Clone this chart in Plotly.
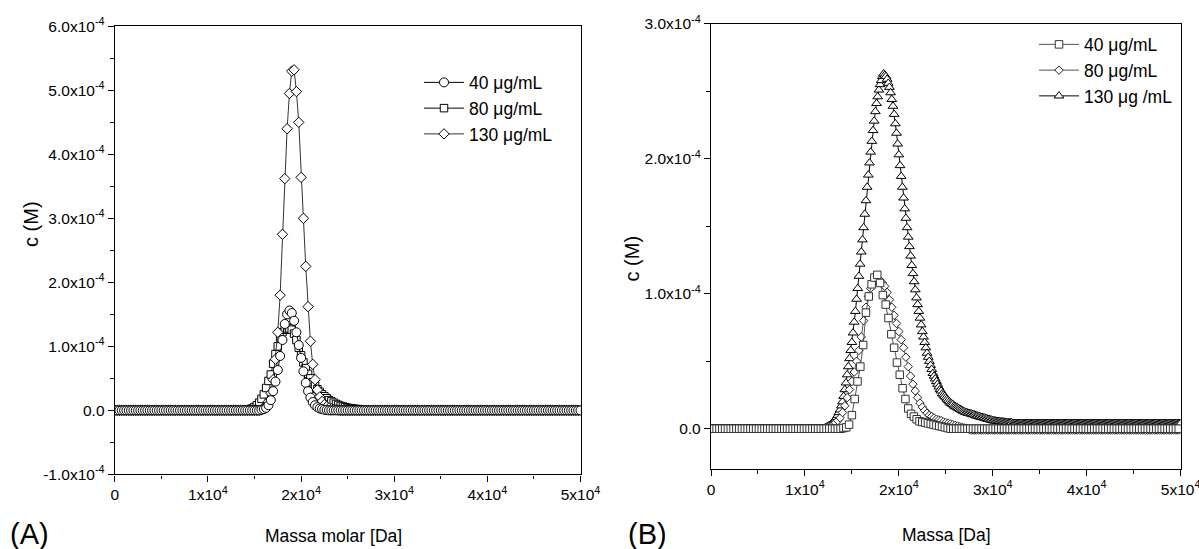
import plotly.graph_objects as go

W, H = 1199, 549

# ---------------------------------------------------------------------------
# Molar-mass grids (Da) on which each distribution was evaluated
# ---------------------------------------------------------------------------
mass_A = list(range(0, 50001, 250))
mass_B40 = list(range(0, 50001, 300))
mass_B80 = list(range(0, 50001, 250))
mass_B130 = list(range(0, 50001, 125))


def with_baseline(values, grid, level=0.0):
    """Extend a series with its flat baseline up to the end of its grid."""
    return values + [level] * (len(grid) - len(values))


# ---------------------------------------------------------------------------
# Panel (A): c(M) distributions, concentration in units of 1e-4 M
# ---------------------------------------------------------------------------
c40_A = with_baseline([0.0] * 63 + [
    0.01, 0.02, 0.04, 0.08, 0.16, 0.30, 0.45, 0.63, 0.85, 1.10,
    1.35, 1.50, 1.56, 1.52, 1.40, 1.22, 1.02, 0.82, 0.61, 0.43,
    0.30, 0.20, 0.13, 0.08, 0.05, 0.03, 0.02, 0.01, 0.005], mass_A)

c80_A = with_baseline([0.0] * 57 + [
    0.005, 0.01, 0.03, 0.05, 0.08, 0.12, 0.18, 0.25, 0.35, 0.46,
    0.56, 0.73, 0.88, 1.00, 1.13, 1.22, 1.26, 1.28, 1.28, 1.26,
    1.20, 1.10, 0.98, 0.86, 0.75, 0.66, 0.57, 0.50, 0.44, 0.38,
    0.33, 0.29, 0.25, 0.22, 0.19, 0.16, 0.14, 0.12, 0.10, 0.085,
    0.07, 0.06, 0.05, 0.04, 0.035, 0.03, 0.025, 0.02, 0.015, 0.01,
    0.005], mass_A)

c130_A = with_baseline([0.0] * 63 + [
    0.01, 0.03, 0.07, 0.14, 0.27, 0.48, 0.80, 1.22, 1.80, 2.75,
    3.62, 4.40, 4.95, 5.30, 5.32, 4.98, 4.50, 3.64, 3.00, 2.25,
    1.62, 1.08, 0.72, 0.48, 0.32, 0.21, 0.14, 0.09, 0.06, 0.04,
    0.025, 0.015, 0.01, 0.005], mass_A)

# ---------------------------------------------------------------------------
# Panel (B): c(M) distributions, concentration in units of 1e-4 M
# ---------------------------------------------------------------------------
c40_B = with_baseline([0.0] * 47 + [
    0.005, 0.01, 0.03, 0.10, 0.22, 0.35, 0.46, 0.62, 0.86, 0.98,
    1.07, 1.12, 1.14, 1.08, 0.99, 0.92, 0.82, 0.70, 0.60, 0.49,
    0.40, 0.30, 0.22, 0.15, 0.11, 0.09, 0.07, 0.055, 0.05, 0.045,
    0.04, 0.035, 0.03, 0.025, 0.02, 0.015, 0.01, 0.005], mass_B40)

c80_B = with_baseline([0.0] * 49 + [
    0.01, 0.015, 0.02, 0.03, 0.045, 0.06, 0.08, 0.12, 0.17, 0.23,
    0.29, 0.35, 0.42, 0.50, 0.58, 0.68, 0.80, 0.90, 0.98, 1.04,
    1.08, 1.105, 1.11, 1.10, 1.08, 1.055, 1.01, 0.955, 0.90, 0.84,
    0.78, 0.72, 0.66, 0.60, 0.53, 0.46, 0.39, 0.33, 0.28, 0.23,
    0.19, 0.16, 0.135, 0.115, 0.10, 0.09, 0.08, 0.07, 0.065, 0.06,
    0.05, 0.045, 0.04, 0.035, 0.03, 0.025, 0.02, 0.015, 0.01, 0.005,
    0.0, -0.005, -0.01], mass_B80, level=-0.01)

c130_B = with_baseline([0.0] * 97 + [
    0.005, 0.01, 0.015, 0.02, 0.025, 0.03, 0.04, 0.05, 0.06, 0.07,
    0.085, 0.10, 0.12, 0.14, 0.17, 0.20, 0.24, 0.29, 0.34, 0.40,
    0.46, 0.52, 0.58, 0.64, 0.71, 0.79, 0.87, 0.96, 1.04, 1.13,
    1.22, 1.31, 1.40, 1.49, 1.59, 1.69, 1.79, 1.88, 1.97, 2.05,
    2.13, 2.21, 2.28, 2.35, 2.41, 2.46, 2.51, 2.55, 2.58, 2.61,
    2.63, 2.62, 2.61, 2.59, 2.56, 2.53, 2.49, 2.44, 2.39, 2.33,
    2.26, 2.19, 2.11, 2.03, 1.95, 1.87, 1.79, 1.71, 1.63, 1.56,
    1.49, 1.42, 1.35, 1.28, 1.21, 1.15, 1.09, 1.03, 0.97, 0.92,
    0.87, 0.82, 0.77, 0.72, 0.68, 0.64, 0.60, 0.56, 0.53, 0.50,
    0.47, 0.44, 0.41, 0.39, 0.37, 0.35, 0.33, 0.31, 0.29, 0.28,
    0.26, 0.25, 0.24, 0.23, 0.22, 0.21, 0.20, 0.19, 0.185, 0.18,
    0.17, 0.165, 0.16, 0.155, 0.15, 0.145, 0.14, 0.135, 0.13, 0.125,
    0.12, 0.12, 0.115, 0.115, 0.11, 0.11, 0.105, 0.105,
    0.10, 0.095, 0.095, 0.09, 0.09, 0.085, 0.085, 0.08, 0.08, 0.075,
    0.075, 0.07, 0.07, 0.065, 0.065, 0.06,
    0.06, 0.058, 0.056, 0.055, 0.054, 0.053, 0.052, 0.051, 0.05, 0.049,
    0.048, 0.047, 0.046, 0.045, 0.045, 0.045], mass_B130, level=0.04)

# Axis ticks
x_tickvals = [0, 10000, 20000, 30000, 40000, 50000]
x_ticktext = ["0"] + [f"{k}x10<sup>4</sup>" for k in range(1, 6)]
yA_tickvals = [-1e-4, 0, 1e-4, 2e-4, 3e-4, 4e-4, 5e-4, 6e-4]
yA_ticktext = ["-1.0x10<sup>-4</sup>", "0.0", "1.0x10<sup>-4</sup>", "2.0x10<sup>-4</sup>",
               "3.0x10<sup>-4</sup>", "4.0x10<sup>-4</sup>", "5.0x10<sup>-4</sup>",
               "6.0x10<sup>-4</sup>"]
yB_tickvals = [0, 1e-4, 2e-4, 3e-4]
yB_ticktext = ["0.0", "1.0x10<sup>-4</sup>", "2.0x10<sup>-4</sup>", "3.0x10<sup>-4</sup>"]

UNIT = 1e-4
FONT = "Arial, Liberation Sans, sans-serif"


def to_molar(values):
    return [v * UNIT for v in values]


def series(x, y, name, symbol, size, xa, ya, legend, rank,
           line_color="black", marker_line="black"):
    return go.Scatter(
        x=x, y=to_molar(y), name=name, mode="lines+markers",
        xaxis=xa, yaxis=ya, legend=legend, legendrank=rank,
        line=dict(color=line_color, width=1),
        marker=dict(symbol=symbol, size=size, color="white",
                    line=dict(color=marker_line, width=1)),
        hoverinfo="skip",
    )


fig = go.Figure()

# Panel A (drawing order: 80, 130, 40 on top)
fig.add_trace(series(mass_A, c80_A, "80 μg/mL", "square", 7.5, "x", "y", "legend", 2))
fig.add_trace(series(mass_A, c130_A, "130 μg/mL", "diamond", 8, "x", "y", "legend", 3,
                     line_color="#333333"))
fig.add_trace(series(mass_A, c40_A, "40 μg/mL", "circle", 9, "x", "y", "legend", 1))

# Panel B (drawing order: 130, 80, 40 on top)
fig.add_trace(series(mass_B130, c130_B, "130 μg /mL", "triangle-up", 8.5, "x2", "y2",
                     "legend2", 3))
fig.add_trace(series(mass_B80, c80_B, "80 μg/mL", "diamond", 6.5, "x2", "y2",
                     "legend2", 2, line_color="#555555", marker_line="#222222"))
fig.add_trace(series(mass_B40, c40_B, "40 μg/mL", "square", 7.5, "x2", "y2",
                     "legend2", 1, line_color="#555555", marker_line="#333333"))

# Plot-area geometry in pixels
A_left, A_right, A_top, A_bottom = 114.8, 580.5, 26.3, 474.4
B_left, B_right, B_top, B_bottom = 711.0, 1180.6, 23.8, 469.2

axis_common = dict(
    showline=True, linecolor="black", linewidth=1.3, mirror=True,
    ticks="outside", ticklen=6, tickwidth=1.3, tickcolor="black",
    showgrid=False, zeroline=False, ticklabeloverflow="allow",
    tickfont=dict(family=FONT, size=15.5, color="black"),
)
minor_common = dict(ticks="outside", ticklen=3.5, tickwidth=1.1, tickcolor="black")

fig.update_layout(
    width=W, height=H,
    margin=dict(l=0, r=0, t=0, b=0, autoexpand=False),
    paper_bgcolor="white", plot_bgcolor="white",
    font=dict(family=FONT, color="black"),
    xaxis=dict(domain=[A_left / W, A_right / W], range=[0, 50000], anchor="y",
               tickmode="array", tickvals=x_tickvals, ticktext=x_ticktext,
               minor=dict(dtick=5000, tick0=0, **minor_common), **axis_common),
    yaxis=dict(domain=[1 - A_bottom / H, 1 - A_top / H], range=[-1e-4, 6e-4], anchor="x",
               tickmode="array", tickvals=yA_tickvals, ticktext=yA_ticktext,
               minor=dict(dtick=0.5e-4, tick0=0, **minor_common), **axis_common),
    xaxis2=dict(domain=[B_left / W, B_right / W], range=[0, 50000], anchor="y2",
                tickmode="array", tickvals=x_tickvals, ticktext=x_ticktext,
                minor=dict(dtick=5000, tick0=0, **minor_common), **axis_common),
    yaxis2=dict(domain=[1 - B_bottom / H, 1 - B_top / H], range=[-0.3e-4, 3e-4], anchor="x2",
                tickmode="array", tickvals=yB_tickvals, ticktext=yB_ticktext,
                minor=dict(dtick=0.5e-4, tick0=0, **minor_common), **axis_common),
    legend=dict(x=419 / W, y=1 - 64.5 / H, xanchor="left", yanchor="top",
                bgcolor="rgba(0,0,0,0)", borderwidth=0, itemwidth=40,
                font=dict(family=FONT, size=17.5, color="black"),
                itemclick=False, itemdoubleclick=False),
    legend2=dict(x=1034 / W, y=1 - 26.5 / H, xanchor="left", yanchor="top",
                 bgcolor="rgba(0,0,0,0)", borderwidth=0, itemwidth=40,
                 font=dict(family=FONT, size=17.5, color="black"),
                 itemclick=False, itemdoubleclick=False),
    showlegend=True,
)


def label(text, px, py, size, angle=0):
    fig.add_annotation(text=text, x=px / W, y=1 - py / H, xref="paper", yref="paper",
                       xanchor="center", yanchor="middle", showarrow=False,
                       textangle=angle, font=dict(family=FONT, size=size, color="black"))


label("Massa molar [Da]", 333, 536, 17.5)
label("Massa [Da]", 946, 535, 17.5)
label("c (M)", 31, 224, 20, angle=-90)
label("c (M)", 631.5, 259, 20, angle=-90)
label("(A)", 29.7, 534, 29)
label("(B)", 647.8, 534, 29)

fig.write_html("out.html")
